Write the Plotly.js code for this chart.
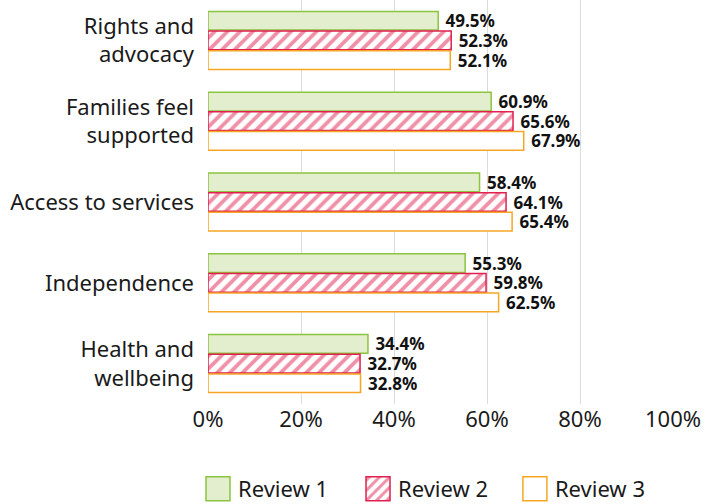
<!DOCTYPE html>
<html><head><meta charset="utf-8">
<script src="https://cdn.plot.ly/plotly-3.0.1.min.js"></script>
<style>html,body{margin:0;padding:0;background:#fff}#chart{width:711px;height:504px}</style>
</head><body><div id="chart"></div>
<script>
const categories = ["Rights and<br>advocacy", "Families feel<br>supported", "Access to services", "Independence", "Health and<br>wellbeing"];
const review1 = [49.5, 60.9, 58.4, 55.3, 34.4];
const review2 = [52.3, 65.6, 64.1, 59.8, 32.7];
const review3 = [52.1, 67.9, 65.4, 62.5, 32.8];
const seriesNames = ["Review 1", "Review 2", "Review 3"];
const xTicks = [0, 20, 40, 60, 80, 100];
const xTickLabels = ["0%", "20%", "40%", "60%", "80%", "100%"];

const fontFam = "Noto Sans, Open Sans, sans-serif";
function lab(v){ return v.map(x => " " + x.toFixed(1) + "%"); }
const common = {type:"bar", orientation:"h", y:categories, textposition:"outside", cliponaxis:false,
  constraintext:"none",
  textfont:{family:fontFam, size:17, color:"#111", weight:"bold"}, hoverinfo:"skip"};
const traces = [
  Object.assign({}, common, {name:seriesNames[0], x:review1, text:lab(review1), legend:"legend",
    marker:{color:"#e2eecd", line:{color:"#8cc43f", width:1.5}}}),
  Object.assign({}, common, {name:seriesNames[1], x:review2, text:lab(review2), legend:"legend2",
    marker:{color:"#ffffff", line:{color:"#e0214f", width:1.5},
      pattern:{shape:"/", fillmode:"overlay", bgcolor:"#ffffff", fgcolor:"#e0214f", size:9, solidity:0.42}}}),
  Object.assign({}, common, {name:seriesNames[2], x:review3, text:lab(review3), legend:"legend3",
    marker:{color:"#ffffff", line:{color:"#f6a623", width:1.5}}})
];
const legBase = {orientation:"h", xanchor:"left", y:-0.245, yanchor:"bottom", font:{size:22}, bgcolor:"rgba(0,0,0,0)"};
const layout = {
  width:711, height:504,
  margin:{l:208, r:38, t:0, b:100},
  paper_bgcolor:"#fff", plot_bgcolor:"#fff",
  barmode:"group", bargap:0.27, bargroupgap:0.05,
  font:{family:fontFam, size:22, color:"#1a1a1a"},
  xaxis:{range:[0,100], tickvals:xTicks, ticktext:xTickLabels, showgrid:true, gridcolor:"#dcdcdc", gridwidth:1,
    zeroline:false, showline:false, ticks:"", tickfont:{size:22}, fixedrange:true},
  yaxis:{autorange:"reversed", showgrid:false, zeroline:false, showline:false, ticks:"", ticklabelstandoff:13,
    tickfont:{size:22}},
  showlegend:true,
  legend:Object.assign({}, legBase, {x:-0.0215}),
  legend2:Object.assign({}, legBase, {x:0.3226}),
  legend3:Object.assign({}, legBase, {x:0.660})
};
Plotly.newPlot("chart", traces, layout, {displayModeBar:false, staticPlot:true}).then(gd => {
  gd.querySelectorAll(".legendpoints path").forEach(p => {
    p.setAttribute("d", "M12,12H-12V-12H12Z");
  });
  gd.querySelectorAll("g.infolayer > g").forEach(g => {
    const cls = g.getAttribute("class") || "";
    if (!/^legend\d*$/.test(cls)) return;
    const t = g.getAttribute("transform") || "";
    const m = t.match(/translate\(\s*([-\d.]+)[ ,]+([-\d.]+)\s*\)/);
    if (m) g.setAttribute("transform", "translate(" + m[1] + "," + (parseFloat(m[2]) + 7) + ")");
  });
});
</script></body></html>
